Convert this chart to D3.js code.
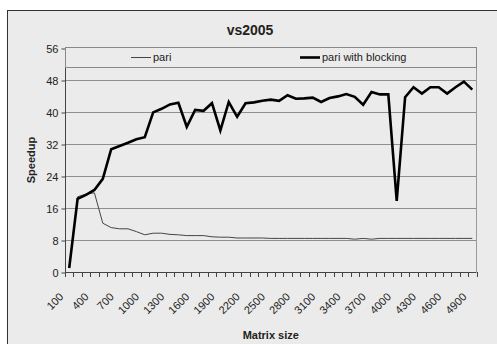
<!DOCTYPE html>
<html>
<head>
<meta charset="utf-8">
<script src="https://cdn.jsdelivr.net/npm/d3@7"></script>
<style>
  body { margin: 0; background: #fff; }
  svg text { font-family: Arial, "Liberation Sans", sans-serif; fill: #222; }
</style>
</head>
<body>
<script>
const w = 497;
const h = 344;

const sizes = d3.range(100, 5000, 100); // 100 .. 4900
const pari = [1, 18.8, 19.5, 19.8, 12.2, 11.1, 10.8, 10.8, 10.1, 9.3,
    9.7, 9.7, 9.4, 9.3, 9.1, 9.1, 9.1, 8.8, 8.7, 8.7,
    8.5, 8.5, 8.5, 8.5, 8.4, 8.4, 8.4, 8.4, 8.4, 8.4,
    8.4, 8.4, 8.4, 8.4, 8.2, 8.4, 8.2, 8.4, 8.4, 8.4,
    8.4, 8.4, 8.4, 8.4, 8.4, 8.4, 8.4, 8.4, 8.4];
const blocking = [1, 18.3, 19.3, 20.5, 23.3, 30.7, 31.5, 32.3, 33.2, 33.7,
    39.9, 40.8, 41.9, 42.3, 36.3, 40.5, 40.3, 42.2, 35.4, 42.5,
    38.8, 42.2, 42.4, 42.8, 43.1, 42.8, 44.2, 43.3, 43.4, 43.6,
    42.5, 43.5, 43.9, 44.5, 43.8, 41.8, 45.0, 44.4, 44.4, 17.8,
    43.7, 46.2, 44.6, 46.2, 46.2, 44.6, 46.2, 47.6, 45.6];
const yTicks = [0, 8, 16, 24, 32, 40, 48, 56];

const margin = {left: 65, right: 476.5, top: 48, bottom: 272};

const svg = d3.select("body")
    .append("svg")
    .attr("width", w)
    .attr("height", h)
    ;

// chart area
svg.append("rect")
    .attr("x", 7.5).attr("y", 10.5)
    .attr("width", 500).attr("height", 340)
    .attr("fill", "#ebebeb")
    .attr("stroke", "#333")
    ;

const xScale = d3.scaleBand()
    .domain(sizes)
    .range([margin.left, margin.right])
    .padding(0)
    ;
const yScale = d3.scaleLinear()
    .domain([0, 56])
    .range([margin.bottom, margin.top])
    ;

// grid lines
svg.append("g")
    .selectAll("line")
    .data(yTicks.slice(1))
    .join("line")
    .attr("x1", margin.left).attr("x2", margin.right)
    .attr("y1", d => Math.round(yScale(d)) + 0.5)
    .attr("y2", d => Math.round(yScale(d)) + 0.5)
    .attr("stroke", "#8f8f8f")
    ;

// plot border on the right
svg.append("line")
    .attr("x1", margin.right).attr("x2", margin.right)
    .attr("y1", margin.top).attr("y2", margin.bottom)
    .attr("stroke", "#999")
    ;

// y axis
const yAxis = d3.axisLeft(yScale).tickValues(yTicks).tickSize(4).tickPadding(3);
const gy = svg.append("g")
    .attr("transform", "translate(" + (margin.left + 0.5) + ", 0.5)")
    .call(yAxis)
    ;
gy.selectAll("path, line").attr("stroke", "#444");
gy.select(".domain").attr("d", "M0," + (margin.bottom - 0.5) + "V" + (margin.top - 0.5));
gy.selectAll("text").attr("font-size", 11).attr("fill", "#333").attr("font-family", null);

// x axis
svg.append("line")
    .attr("x1", margin.left).attr("x2", margin.right)
    .attr("y1", margin.bottom + 0.5).attr("y2", margin.bottom + 0.5)
    .attr("stroke", "#444")
    ;
const edges = sizes.map(d => xScale(d)).concat([margin.right]);
svg.append("g")
    .selectAll("line")
    .data(edges)
    .join("line")
    .attr("x1", d => Math.round(d) + 0.5).attr("x2", d => Math.round(d) + 0.5)
    .attr("y1", margin.bottom).attr("y2", margin.bottom + 5)
    .attr("stroke", "#444")
    ;
svg.append("g")
    .selectAll("text")
    .data(sizes.filter((d, i) => i % 3 === 0))
    .join("text")
    .attr("transform", d => "translate(" + (xScale(d) + xScale.bandwidth() / 2 - 5) + "," + (margin.bottom + 25.5) + ") rotate(-45)")
    .attr("text-anchor", "end")
    .attr("font-size", 11)
    .attr("fill", "#333")
    .text(d => d)
    ;

// lines
const line = values => d3.line()
    .x((d, i) => xScale(sizes[i]) + xScale.bandwidth() / 2)
    .y(d => yScale(d))(values);

svg.append("path")
    .attr("d", line(pari))
    .attr("fill", "none")
    .attr("stroke", "#444")
    .attr("stroke-width", 1)
    ;
svg.append("path")
    .attr("d", line(blocking))
    .attr("fill", "none")
    .attr("stroke", "#000")
    .attr("stroke-width", 2.6)
    .attr("stroke-linejoin", "miter")
    ;

// legend
svg.append("rect")
    .attr("x", margin.left + 0.5).attr("y", 47.5)
    .attr("width", margin.right - margin.left - 0.5).attr("height", 20)
    .attr("fill", "#ebebeb")
    .attr("stroke", "#888")
    ;
const legendItems = [
    {name: "pari", x: 131, width: 1},
    {name: "pari with blocking", x: 300, width: 2.6}
];
const lg = svg.append("g")
    .selectAll("g")
    .data(legendItems)
    .join("g")
    .attr("transform", d => "translate(" + d.x + ",57.5)")
    ;
lg.append("line")
    .attr("x1", 0).attr("x2", 20)
    .attr("stroke", d => d.width > 1 ? "#000" : "#444")
    .attr("stroke-width", d => d.width)
    ;
lg.append("text")
    .attr("x", 22)
    .attr("dy", "0.35em")
    .attr("font-size", 11)
    .attr("fill", "#333")
    .text(d => d.name)
    ;

// titles
svg.append("text")
    .attr("x", 250).attr("y", 35)
    .attr("text-anchor", "middle")
    .attr("font-size", 14)
    .attr("font-weight", "bold")
    .text("vs2005")
    ;
svg.append("text")
    .attr("transform", "translate(35," + ((margin.top + margin.bottom) / 2) + ") rotate(-90)")
    .attr("text-anchor", "middle")
    .attr("font-size", 11)
    .attr("font-weight", "bold")
    .text("Speedup")
    ;
svg.append("text")
    .attr("x", (margin.left + margin.right) / 2).attr("y", 339)
    .attr("text-anchor", "middle")
    .attr("font-size", 11)
    .attr("font-weight", "bold")
    .text("Matrix size")
    ;
</script>
</body>
</html>
